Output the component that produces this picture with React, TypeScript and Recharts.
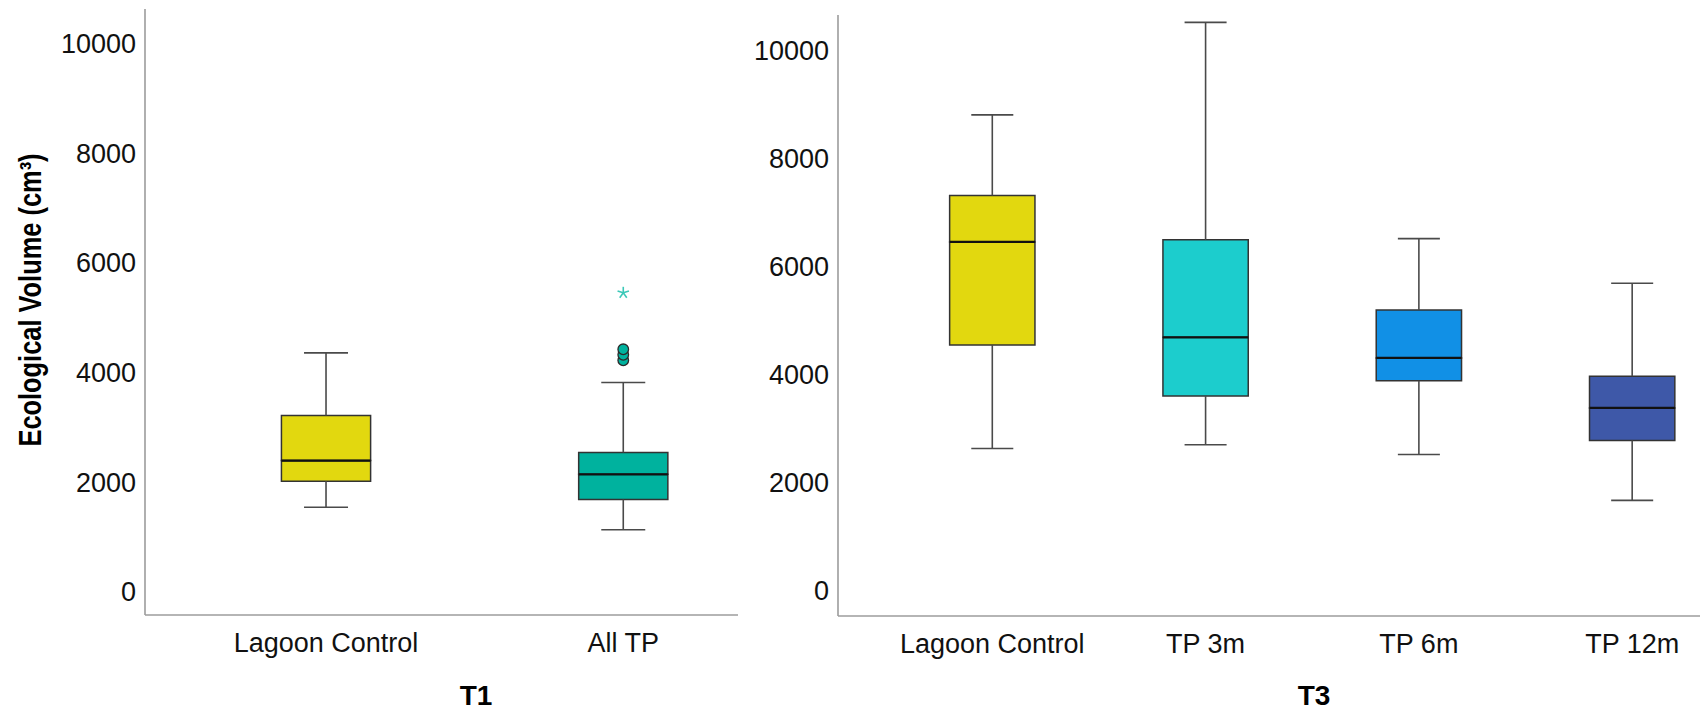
import React from 'react';
import { ComposedChart, XAxis, YAxis, ReferenceArea, ReferenceLine, Scatter } from 'recharts';

// ---- data ----
const t1Categories = ['Lagoon Control', 'All TP'];
const t1Min = [1540, 1130];
const t1Q1 = [2015, 1680];
const t1Median = [2390, 2140];
const t1Q3 = [3215, 2540];
const t1Max = [4355, 3815];
const t1Colors = ['#E2D80F', '#00B29E'];
const t1OutlierCategory = [1, 1, 1];
const t1OutlierValues = [4220, 4320, 4420];
const t1ExtremeCategory = [1];
const t1ExtremeValues = [5450];

const t3Categories = ['Lagoon Control', 'TP 3m', 'TP 6m', 'TP 12m'];
const t3Min = [2630, 2700, 2520, 1670];
const t3Q1 = [4545, 3600, 3885, 2778];
const t3Median = [6450, 4685, 4305, 3380];
const t3Q3 = [7310, 6490, 5190, 3968];
const t3Max = [8800, 10510, 6512, 5686];
const t3Colors = ['#E2D80F', '#1CCDCD', '#1190E6', '#3E58A8'];

const yTicks = [0, 2000, 4000, 6000, 8000, 10000];
const yTitle = 'Ecological Volume (cm\u00B3)';
const panelTitles = ['T1', 'T3'];

const FONT = '"Liberation Sans", Arial, sans-serif';
const tickStyle = { fontSize: 27, fill: '#111', fontFamily: FONT };
const axisLineStyle = { stroke: '#9c9c9c', strokeWidth: 1.6 };

function buildBoxes(
  prefix: string,
  mins: number[], q1s: number[], meds: number[], q3s: number[], maxs: number[],
  colors: string[], halfBox: number, halfCap: number
) {
  const els: any[] = [];
  mins.forEach((_, i) => {
    const wStyle = { stroke: '#4a4a4a', strokeWidth: 1.6 };
    els.push(
      <ReferenceLine key={`${prefix}wl${i}`} segment={[{ x: i, y: mins[i] }, { x: i, y: q1s[i] }]} {...wStyle} />,
      <ReferenceLine key={`${prefix}wu${i}`} segment={[{ x: i, y: q3s[i] }, { x: i, y: maxs[i] }]} {...wStyle} />,
      <ReferenceLine key={`${prefix}cl${i}`} segment={[{ x: i - halfCap, y: mins[i] }, { x: i + halfCap, y: mins[i] }]} {...wStyle} />,
      <ReferenceLine key={`${prefix}cu${i}`} segment={[{ x: i - halfCap, y: maxs[i] }, { x: i + halfCap, y: maxs[i] }]} {...wStyle} />,
      <ReferenceArea key={`${prefix}bl${i}`} x1={i - halfBox} x2={i + halfBox} y1={q1s[i]} y2={meds[i]}
        fill={colors[i]} fillOpacity={1} stroke="#333" strokeWidth={1.5} />,
      <ReferenceArea key={`${prefix}bu${i}`} x1={i - halfBox} x2={i + halfBox} y1={meds[i]} y2={q3s[i]}
        fill={colors[i]} fillOpacity={1} stroke="#333" strokeWidth={1.5} />,
      <ReferenceLine key={`${prefix}md${i}`} segment={[{ x: i - halfBox, y: meds[i] }, { x: i + halfBox, y: meds[i] }]}
        stroke="#111" strokeWidth={2.2} />
    );
  });
  return els;
}

const outlierData = t1OutlierValues.map((v, i) => ({ x: t1OutlierCategory[i], y: v }));
const extremeData = t1ExtremeValues.map((v, i) => ({ x: t1ExtremeCategory[i], y: v }));

const CircleShape = (p: any) => (
  <circle cx={p.cx} cy={p.cy} r={5.3} fill="#00B29E" stroke="#2a2a2a" strokeWidth={1.3} />
);
const StarShape = (p: any) => {
  const r = 6;
  const spokes = [0, 72, 144, 216, 288].map((a) => {
    const rad = ((a - 90) * Math.PI) / 180;
    return (
      <line key={a} x1={p.cx} y1={p.cy} x2={p.cx + r * Math.cos(rad)} y2={p.cy + r * Math.sin(rad)}
        stroke="#3CC8B8" strokeWidth={1.6} />
    );
  });
  return <g>{spokes}</g>;
};

export default function App() {
  return (
    <div style={{ position: 'absolute', left: 0, top: 0, width: 1700, height: 711, background: '#fff', fontFamily: FONT }}>
      <div style={{ position: 'absolute', left: 0, top: 0 }}>
        <ComposedChart width={740} height={711} margin={{ top: 9, right: 2, bottom: 0, left: 0 }}>
          <XAxis type="number" dataKey="x" domain={[-0.609, 1.386]} allowDataOverflow ticks={[0, 1]}
            tickFormatter={(v: number) => t1Categories[v] ?? ''} height={96} tickSize={0} tickMargin={18}
            tick={tickStyle} axisLine={axisLineStyle} tickLine={false} />
          <YAxis type="number" dataKey="y" domain={[-425, 10625]} allowDataOverflow ticks={yTicks} width={145}
            tickSize={0} tickMargin={9} tick={tickStyle} axisLine={axisLineStyle} tickLine={false} />
          {buildBoxes('a', t1Min, t1Q1, t1Median, t1Q3, t1Max, t1Colors, 0.15, 0.074)}
          <Scatter data={outlierData} shape={CircleShape} isAnimationActive={false} />
          <Scatter data={extremeData} shape={StarShape} isAnimationActive={false} />
        </ComposedChart>
      </div>
      <div style={{ position: 'absolute', left: 740, top: 0 }}>
        <ComposedChart width={960} height={711} margin={{ top: 15, right: 0, bottom: 0, left: 0 }}>
          <XAxis type="number" dataKey="x" domain={[-0.7234, 3.318]} allowDataOverflow ticks={[0, 1, 2, 3]}
            tickFormatter={(v: number) => t3Categories[v] ?? ''} height={95} tickSize={0} tickMargin={18}
            tick={tickStyle} axisLine={axisLineStyle} tickLine={false} />
          <YAxis type="number" dataKey="y" domain={[-468, 10647]} allowDataOverflow ticks={yTicks} width={98}
            tickSize={0} tickMargin={9} tick={tickStyle} axisLine={axisLineStyle} tickLine={false} />
          {buildBoxes('b', t3Min, t3Q1, t3Median, t3Q3, t3Max, t3Colors, 0.2, 0.0985)}
          <Scatter data={t3Median.map((m, i) => ({ x: i, y: m }))} shape={() => <g />} isAnimationActive={false} />
        </ComposedChart>
      </div>
      <svg width={1700} height={711} style={{ position: 'absolute', left: 0, top: 0, pointerEvents: 'none' }}>
        <text transform="translate(40.5,300) rotate(-90) scale(0.82,1)" textAnchor="middle"
          fontFamily={FONT} fontWeight="bold" fontSize={31} fill="#000">{yTitle}</text>
        <text x={476} y={705} textAnchor="middle" fontFamily={FONT} fontWeight="bold" fontSize={28} fill="#000">{panelTitles[0]}</text>
        <text x={1314} y={705} textAnchor="middle" fontFamily={FONT} fontWeight="bold" fontSize={28} fill="#000">{panelTitles[1]}</text>
      </svg>
    </div>
  );
}
